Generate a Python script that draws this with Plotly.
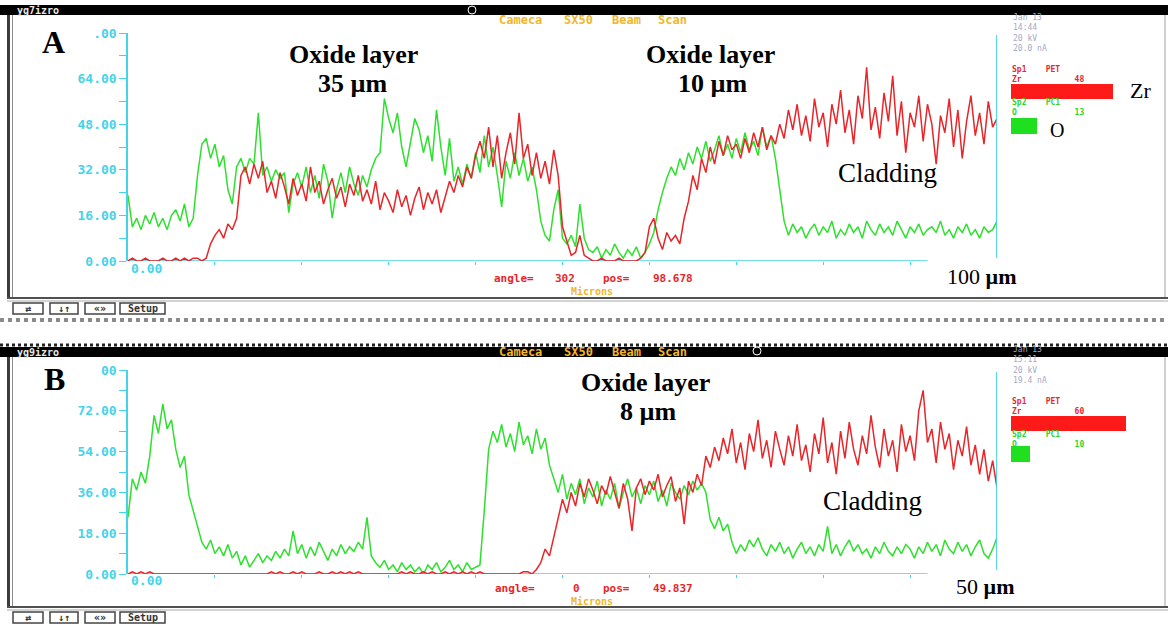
import numpy as np
import plotly.graph_objects as go

W, H = 1168, 625

# ---------------- Scan A : 100 µm traverse ----------------
scan_a_length = 100.0
scan_a_o = [
    23, 12, 15, 11, 16, 13, 17, 12, 15, 11,
    16, 18, 14, 20, 12, 15, 30, 41, 43, 36,
    41, 33, 37, 25, 20, 33, 36, 31, 36, 34,
    52, 30, 33, 28, 32, 29, 31, 17, 27, 31,
    26, 33, 24, 30, 22, 34, 28, 15, 25, 31,
    24, 33, 27, 23, 30, 26, 32, 36, 38, 57,
    50, 45, 52, 40, 33, 42, 50, 46, 38, 44,
    35, 53, 40, 30, 43, 28, 33, 27, 34, 29,
    38, 31, 44, 33, 40, 30, 19, 35, 29, 38,
    30, 36, 28, 33, 25, 14, 9, 7, 18, 25,
    8, 6, 9, 5, 20, 8, 4, 3, 5, 1,
    4, 2, 6, 3, 1, 4, 2, 5, 1, 3,
    6, 10, 18, 24, 29, 33, 30, 36, 32, 38,
    34, 40, 36, 42, 35, 39, 44, 37, 41, 36,
    43, 38, 45, 39, 42, 37, 47, 40, 44, 36,
    25, 14, 9, 13, 10, 12, 8, 11, 13, 9,
    12, 10, 14, 8, 11, 9, 13, 10, 12, 8,
    14, 11, 9, 13, 10, 12, 9, 14, 11, 8,
    12, 10, 13, 9, 11, 12, 10, 14, 9, 11,
    8, 12, 10, 13, 9, 11, 8, 12, 10, 11,
    14,
]
scan_a_zr = [
    0, 1, 0, 0, 1, 0, 0, 0, 1, 0,
    0, 1, 0, 1, 0, 1, 1, 0, 1, 6,
    9, 11, 8, 13, 11, 15, 30, 33, 27, 34,
    29, 35, 24, 28, 22, 31, 26, 20, 29, 23,
    27, 21, 33, 24, 28, 20, 25, 29, 22, 26,
    19, 27, 23, 30, 21, 25, 20, 28, 18, 24,
    21, 17, 25, 19, 23, 16, 22, 26, 18, 24,
    20, 25, 17, 23, 28, 24, 30, 26, 33, 29,
    37, 42, 36, 47, 33, 44, 29, 38, 45, 34,
    52, 36, 41, 30, 38, 29, 35, 27, 39, 30,
    12, 7, 2, 3, 9, 2, 1, 0, 0, 1,
    0, 0, 0, 1, 0, 0, 0, 0, 1, 3,
    12, 15, 8, 4, 10, 7, 9, 6, 15, 21,
    30, 25, 36, 31, 40, 34, 42, 37, 44, 39,
    41, 36, 43, 38, 45, 40, 47, 39, 44, 41,
    48, 43, 53, 46, 55, 44, 51, 42, 57, 47,
    52, 40, 55, 48, 60, 45, 53, 41, 58, 50,
    68, 46, 54, 43, 59, 49, 65, 44, 56, 38,
    52, 47, 58, 42, 55, 48, 34, 51, 45, 57,
    40, 53, 36, 49, 58, 44, 52, 41, 56, 47,
    50,
]
scan_a_yticks = [0, 16, 32, 48, 64, 80]
scan_a_ylabels = ["0.00", "16.00", "32.00", "48.00", "64.00", ".00"]
scan_a_xticks = [10, 20, 30, 40, 50, 60, 70, 80, 90]

# ---------------- Scan B : 50 µm traverse ----------------
scan_b_length = 50.0
scan_b_o = [
    25, 42, 37, 45, 40, 52, 70, 62, 75, 64,
    68, 55, 47, 52, 35, 28, 20, 14, 11, 15,
    9, 12, 8, 13, 7, 10, 4, 8, 3, 6,
    9, 5, 8, 6, 10, 7, 11, 8, 19, 9,
    13, 7, 12, 8, 14, 10, 6, 11, 8, 13,
    9, 12, 10, 14, 11, 25, 8, 5, 3, 6,
    2, 4, 1, 5, 2, 4, 1, 3, 0, 4,
    2, 5, 1, 3, 6, 2, 4, 1, 5, 2,
    3, 4, 28, 55, 63, 58, 66, 56, 62, 54,
    67, 57, 61, 53, 64, 55, 60, 48, 42, 36,
    44, 33, 40, 35, 42, 31, 38, 34, 41, 30,
    37, 33, 40, 29, 36, 42, 34, 38, 31, 39,
    35, 41, 32, 37, 30, 40, 36, 33, 39, 35,
    41, 37, 40, 36, 24, 20, 25, 19, 22, 14,
    9, 13, 10, 15, 12, 16, 11, 8, 13, 10,
    14, 9, 12, 7, 11, 14, 9, 12, 8, 13,
    10, 21, 9, 13, 8, 12, 15, 10, 13, 9,
    11, 7, 12, 9, 14, 10, 8, 12, 9, 13,
    11, 7, 12, 9, 14, 10, 13, 8, 15, 11,
    9, 14, 10, 13, 8, 12, 15, 9, 7, 11,
    16,
]
scan_b_zr = [
    0, 1, 0, 1, 0, 1, 0, 0, 0, 0,
    0, 0, 0, 0, 0, 0, 0, 0, 0, 0,
    0, 0, 0, 0, 0, 0, 0, 0, 0, 0,
    0, 0, 0, 1, 0, 1, 0, 0, 1, 0,
    1, 0, 0, 0, 1, 0, 0, 1, 0, 1,
    0, 1, 0, 1, 0, 0, 0, 0, 0, 0,
    0, 0, 0, 1, 0, 1, 0, 0, 1, 0,
    1, 0, 0, 1, 0, 1, 0, 1, 0, 1,
    0, 1, 0, 0, 0, 0, 0, 0, 0, 0,
    0, 1, 1, 0, 2, 5, 11, 8, 16, 24,
    33, 27, 36, 30, 40, 34, 42, 37, 31, 39,
    35, 43, 36, 29, 40, 33, 19, 38, 42, 35,
    41, 37, 44, 34, 39, 43, 32, 38, 22, 41,
    36, 44, 39, 52, 47, 56, 50, 60, 53, 64,
    49, 58, 46, 62, 54, 68, 51, 59, 47, 63,
    55, 48, 61, 52, 66, 50, 57, 45, 62, 53,
    69, 49, 58, 44, 63, 51, 67, 55, 48, 61,
    53, 70, 56, 47, 64, 52, 59, 45, 66, 54,
    61, 50, 72, 81, 58, 64, 49, 67, 55, 62,
    46, 59, 52, 65, 48, 57, 44, 55, 41, 50,
    38,
]
scan_b_yticks = [0, 18, 36, 54, 72, 90]
scan_b_ylabels = ["0.00", "18.00", "36.00", "54.00", "72.00", "00"]
scan_b_xticks = [5, 10, 15, 20, 25, 30, 35, 40, 45]

# ---------------- styling ----------------
CYAN = "#45d3ea"
GREEN = "#2ee02e"
RED = "#e8262a"
ORANGE = "#f2b62c"
GREY_TXT = "#a3aac6"
LABEL_GREEN = "#2bd42b"
MONO = "DejaVu Sans Mono"
SERIF = "Liberation Serif"


def fx(px):
    return px / W


def fy(py):
    return 1 - py / H


def positions(values, length):
    return np.linspace(0, length, len(values))


fig = go.Figure()

for vals, length, color, xa, ya in [
    (scan_a_o, scan_a_length, GREEN, "x", "y"),
    (scan_a_zr, scan_a_length, RED, "x", "y"),
    (scan_b_o, scan_b_length, GREEN, "x2", "y2"),
    (scan_b_zr, scan_b_length, RED, "x2", "y2"),
]:
    fig.add_trace(go.Scatter(
        x=positions(vals, length), y=vals, mode="lines",
        line=dict(color=color, width=1.5), xaxis=xa, yaxis=ya,
        hoverinfo="skip",
    ))


def y_axis(top_px, bottom_px, ticks, labels, anchor):
    step = ticks[1] - ticks[0]
    return dict(
        domain=[fy(bottom_px), fy(top_px)], range=[0, ticks[-1]],
        tickmode="array", tickvals=ticks, ticktext=labels,
        showline=True, linecolor=CYAN, linewidth=1.5,
        ticks="outside", ticklen=7, tickcolor=CYAN, tickwidth=1.2,
        minor=dict(ticks="outside", ticklen=7, tickcolor=CYAN, tickwidth=1.2,
                   tick0=step / 2, dtick=step),
        showgrid=False, zeroline=False, anchor=anchor, automargin=False,
        tickfont=dict(family=MONO, size=13, color=CYAN, weight="bold"),
    )


def x_axis(length, ticks, anchor):
    return dict(
        domain=[fx(128), fx(997)], range=[0, length],
        tickmode="array", tickvals=ticks, ticks="outside", ticklen=3,
        tickcolor=CYAN, tickwidth=1.2, showticklabels=False,
        showline=False, showgrid=False, zeroline=False, anchor=anchor,
        automargin=False,
    )


fig.update_layout(
    width=W, height=H,
    margin=dict(l=0, r=0, t=0, b=0, pad=0, autoexpand=False),
    paper_bgcolor="white", plot_bgcolor="rgba(0,0,0,0)", showlegend=False,
    xaxis=x_axis(scan_a_length, scan_a_xticks, "y"),
    yaxis=y_axis(33, 261, scan_a_yticks, scan_a_ylabels, "x"),
    xaxis2=x_axis(scan_b_length, scan_b_xticks, "y2"),
    yaxis2=y_axis(370, 574, scan_b_yticks, scan_b_ylabels, "x2"),
)

shapes = []


def prect(x0, y0, x1, y1, fill=None, line=None, lw=1):
    shapes.append(dict(type="rect", xref="paper", yref="paper",
                       x0=fx(x0), x1=fx(x1), y0=fy(y1), y1=fy(y0),
                       fillcolor=fill or "rgba(0,0,0,0)",
                       line=dict(color=line or "rgba(0,0,0,0)", width=lw)))


def pline(x0, y0, x1, y1, color, lw=1, dash="solid"):
    shapes.append(dict(type="line", xref="paper", yref="paper",
                       x0=fx(x0), x1=fx(x1), y0=fy(y0), y1=fy(y1),
                       line=dict(color=color, width=lw, dash=dash)))


annotations = []


def note(text, x, y, size, color="black", family=SERIF, anchor="center",
         bold=False, align="left"):
    annotations.append(dict(
        text=text, xref="paper", yref="paper", x=fx(x), y=fy(y),
        xanchor=anchor, yanchor="middle", showarrow=False, align=align,
        borderpad=0,
        font=dict(family=family, size=size, color=color,
                  weight="bold" if bold else "normal"),
    ))


def window(top, bottom, title, dotted_top):
    # title bar
    if dotted_top:
        pline(0, top - 2, W, top - 2, "#222", 3, "dot")
    prect(0, top, W, top + 10, fill="black")
    note(title, 16, top + 5, 10, color="#e8e8e8", family=MONO, anchor="left",
         bold=True)
    # frame
    prect(7, top + 10, 10, bottom, fill="#3c3c3c")
    pline(12.5, top + 10, 12.5, bottom, "#8c8c8c", 1)
    pline(1165, top + 10, 1165, bottom, "#a0a0a0", 1)
    pline(7, bottom, W, bottom, "#505050", 2)
    pline(7, bottom + 3, W, bottom + 3, "#a8a8a8", 1)
    # toolbar buttons
    for (bx0, bx1, label) in [(13, 43, "⇄"), (50, 78, "↓↑"),
                              (85, 115, "«»"), (120, 165, "Setup")]:
        prect(bx0, bottom + 5, bx1, bottom + 16, line="#444", lw=1.5)
        note(label, (bx0 + bx1) / 2, bottom + 10.5, 10, color="#333",
             family=MONO, bold=True)


window(5, 298, "yg7izro", False)
pline(0, 320, W, 320, "#8a8a8a", 4, "dot")
window(347, 607, "yg9izro", True)

# beam-position marks in the title bars
for cx, cy in [(472, 10), (757, 351)]:
    shapes.append(dict(type="circle", xref="paper", yref="paper",
                       x0=fx(cx - 4), x1=fx(cx + 4), y0=fy(cy + 4), y1=fy(cy - 4),
                       line=dict(color="white", width=1)))

# x axis baselines and right-hand scan limits
for xa, ya, length, span, top, bottom in [
    ("x", "y", scan_a_length, 92, 35, 258),
    ("x2", "y2", scan_b_length, 46, 372, 570),
]:
    shapes.append(dict(type="line", xref=xa, yref=ya, x0=0, x1=span, y0=0, y1=0,
                       line=dict(color=CYAN, width=1.5), layer="below"))
    shapes.append(dict(type="line", xref=xa, yref="paper", x0=length, x1=length,
                       y0=fy(bottom), y1=fy(top),
                       line=dict(color=CYAN, width=1.8)))


def spaced_words(words, centers, y, size, color):
    # screen read-outs use a wide bitmap font: place each word on its own
    for word, cx in zip(words, centers):
        note(word, cx, y, size, color, MONO, bold=True)


def readouts(y0, run_lines, zr_count, o_count, zr_bar_right, o_box_right,
             o_box_top):
    spaced_words(["Cameca", "SX50", "Beam", "Scan"], [520, 578, 626, 672],
                 y0 + 15, 12, ORANGE)
    note("<br>".join(run_lines), 1012, y0 + 28, 8, GREY_TXT, MONO,
         anchor="left")
    note("Sp1    PET<br>Zr           " + zr_count, 1011, y0 + 69, 8, RED,
         MONO, anchor="left", bold=True)
    note("Sp2    PC1<br>O            " + o_count, 1011, y0 + 102, 8,
         LABEL_GREEN, MONO, anchor="left", bold=True)
    prect(1011, y0 + 79, zr_bar_right, y0 + 94, fill="#ff1a1a")
    prect(1011, y0 + o_box_top, o_box_right, y0 + o_box_top + 16,
          fill="#1ee01e")


# instrument read-outs, scan A
readouts(5, ["Jan 13", "14:44", "20 kV", "20.0 nA"], "48", "13", 1113, 1037,
         113)
note("0.00", 130, 268, 13, CYAN, MONO, anchor="left", bold=True)
spaced_words(["angle=", "302", "pos=", "98.678"], [514, 565, 616, 673],
             278, 11, RED)
note("Microns", 592, 291, 10, ORANGE, MONO, bold=True)

# instrument read-outs, scan B
readouts(337, ["Jan 13", "15:11", "20 kV", "19.4 nA"], "60", "10", 1126, 1030,
         109)
note("0.00", 130, 580, 13, CYAN, MONO, anchor="left", bold=True)
spaced_words(["angle=", "0", "pos=", "49.837"], [515, 576, 616, 673],
             588.5, 11, RED)
note("Microns", 592, 601.5, 10, ORANGE, MONO, bold=True)

# panel captions
note("A", 53, 42, 32, bold=True)
note("Oxide layer", 353, 54, 26, bold=True)
note("35 µm", 352, 83, 26, bold=True)
note("Oxide layer", 710, 54, 26, bold=True)
note("10 µm", 712, 83, 26, bold=True)
note("Cladding", 887, 173, 27)
note("100 <b>µm</b>", 982, 276, 22)
note("Zr", 1140, 91, 22)
note("O", 1057, 130, 20)

note("B", 54, 379, 32, bold=True)
note("Oxide layer", 645, 382, 26, bold=True)
note("8 µm", 648, 411, 26, bold=True)
note("Cladding", 872, 501, 27)
note("50 <b>µm</b>", 985, 586, 22)

fig.update_layout(shapes=shapes, annotations=annotations)
fig.write_html("out.html", config={"displayModeBar": False})
